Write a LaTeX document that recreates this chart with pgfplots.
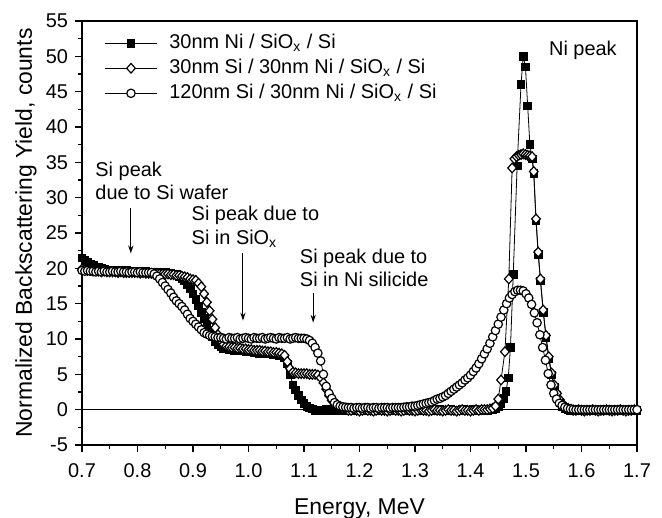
\documentclass[border=0pt]{standalone}
\usepackage{fontspec}
\setmainfont{Liberation Sans}
\usepackage{pgfplots}
\pgfplotsset{compat=1.18}
\usetikzlibrary{arrows.meta}
\begin{document}
\begin{tikzpicture}
\begin{axis}[
  at={(0,0)}, anchor=south west,
  scale only axis, width=277.5bp, height=212bp,
  xmin=0.7, xmax=1.7, ymin=-5, ymax=55,
  xtick={0.7,0.8,0.9,1.0,1.1,1.2,1.3,1.4,1.5,1.6,1.7},
  ytick={-5,0,5,10,15,20,25,30,35,40,45,50,55},
  minor x tick num=1, minor y tick num=1,
  tick align=outside, tick pos=left,
  major tick length=3.5bp, minor tick length=2bp,
  axis line style={line width=0.75bp},
  every tick/.style={black, line width=0.6bp},
  x tick label style={/pgf/number format/fixed, /pgf/number format/fixed zerofill, /pgf/number format/precision=1, /tikz/yshift=-2.5bp},
  /pgf/number format/assume math mode=true,
  tick label style={font=\fontsize{10}{12}\selectfont},
  x label style={font=\fontsize{11.5}{13}\selectfont, at={(axis description cs:0.5,0)}, anchor=base, yshift=-34.6bp},
  y label style={font=\fontsize{11.5}{13}\selectfont, at={(axis description cs:-0.1009,0.5)}, anchor=center},
  xlabel={Energy, MeV},
  ylabel={Normalized Backscattering Yield, counts},
  legend cell align=left,
  legend style={draw=none, fill=none, at={(axis cs:0.740,53.6)}, anchor=north west,
    font=\fontsize{10}{12}\selectfont, inner sep=0pt, row sep=0.5bp,
    nodes={inner sep=1bp, text height=7.5bp, text depth=2.5bp},
    /tikz/every odd column/.append style={column sep=5bp}},
  legend image code/.code={\draw[mark repeat=2,mark phase=2] plot coordinates {(0bp,0bp) (13bp,0bp) (26bp,0bp)};},
]
\addplot[black, line width=0.4bp, forget plot] coordinates {(0.7,0) (1.7,0)};

% 30nm Ni / SiOx / Si
\addplot[black, line width=0.4bp, mark=square*, mark size=1.9bp, mark options={fill=black, solid}] coordinates {
(0.700,21.5)(0.705,21.2)(0.710,20.9)(0.715,20.6)(0.720,20.4)(0.725,20.2)(0.730,20.1)(0.735,20.0)(0.740,19.9)(0.745,19.8)
(0.750,19.8)(0.755,19.7)(0.760,19.7)(0.765,19.7)(0.770,19.7)(0.775,19.6)(0.780,19.7)(0.785,19.6)(0.790,19.6)(0.795,19.6)
(0.800,19.6)(0.805,19.6)(0.810,19.5)(0.815,19.6)(0.820,19.5)(0.825,19.5)(0.830,19.5)(0.835,19.5)(0.840,19.4)(0.845,19.4)
(0.850,19.4)(0.855,19.3)(0.860,19.3)(0.865,19.2)(0.870,19.1)(0.875,18.9)(0.880,18.6)(0.885,18.2)(0.890,17.7)(0.895,17.1)
(0.900,16.4)(0.905,15.6)(0.910,14.7)(0.915,13.8)(0.920,12.9)(0.925,12.0)(0.930,11.1)(0.935,10.3)(0.940,9.7)(0.945,9.2)
(0.950,8.9)(0.955,8.7)(0.960,8.6)(0.965,8.5)(0.970,8.5)(0.975,8.4)(0.980,8.4)(0.985,8.3)(0.990,8.3)(0.995,8.2)
(1.000,8.2)(1.005,8.2)(1.010,8.1)(1.015,8.1)(1.020,8.0)(1.025,8.0)(1.030,8.0)(1.035,7.9)(1.040,7.9)(1.045,7.8)
(1.050,7.8)(1.055,7.7)(1.060,7.6)(1.065,7.3)(1.070,6.5)(1.075,5.0)(1.080,3.5)(1.085,2.8)(1.090,2.0)(1.095,1.4)
(1.100,0.9)(1.105,0.5)(1.110,0.25)(1.115,0.1)(1.120,-0.1)(1.125,-0.1)(1.130,-0.2)(1.135,-0.1)(1.140,0.0)(1.145,-0.1)
(1.150,-0.2)(1.155,-0.1)(1.160,-0.1)(1.165,0.0)(1.170,-0.2)(1.175,-0.1)(1.180,-0.1)(1.185,0.0)(1.190,-0.2)(1.195,-0.1)
(1.200,-0.1)(1.205,0.0)(1.210,-0.2)(1.215,-0.1)(1.220,-0.1)(1.225,0.0)(1.230,-0.2)(1.235,-0.1)(1.240,-0.1)(1.245,0.0)
(1.250,-0.2)(1.255,-0.1)(1.260,-0.1)(1.265,0.0)(1.270,-0.2)(1.275,-0.1)(1.280,-0.1)(1.285,0.0)(1.290,-0.2)(1.295,-0.1)
(1.300,-0.1)(1.305,0.0)(1.310,-0.2)(1.315,-0.1)(1.320,-0.1)(1.325,0.0)(1.330,-0.2)(1.335,-0.1)(1.340,-0.1)(1.345,0.0)
(1.350,-0.2)(1.355,-0.1)(1.360,-0.1)(1.365,0.0)(1.370,-0.2)(1.375,-0.1)(1.380,-0.1)(1.385,0.0)(1.390,-0.2)(1.395,-0.1)
(1.400,-0.1)(1.405,0.0)(1.410,-0.2)(1.415,-0.1)(1.420,-0.1)(1.425,0.0)(1.430,-0.1)(1.435,0.0)(1.440,0.0)(1.445,0.1)
(1.450,0.4)(1.455,0.9)(1.460,1.6)(1.464,2.6)(1.468,4.5)(1.472,8.8)(1.477,19.1)(1.484,34.5)(1.491,46.0)(1.495,50.0)
(1.499,48.5)(1.503,43.0)(1.507,37.5)(1.511,35.5)(1.514,33.4)(1.518,26.7)(1.522,22.0)(1.526,18.2)(1.531,13.8)(1.536,10.2)
(1.541,7.2)(1.546,4.9)(1.551,3.2)(1.556,2.0)(1.561,1.1)(1.566,0.5)(1.571,0.2)(1.576,0.0)(1.580,-0.2)(1.585,-0.1)
(1.590,0.0)(1.595,-0.1)(1.600,-0.1)(1.605,-0.2)(1.610,-0.1)(1.615,0.0)(1.620,-0.1)(1.625,-0.1)(1.630,-0.2)(1.635,-0.1)
(1.640,0.0)(1.645,-0.1)(1.650,-0.1)(1.655,-0.2)(1.660,-0.1)(1.665,0.0)(1.670,-0.1)(1.675,-0.1)(1.680,-0.2)(1.685,-0.1)
(1.690,0.0)(1.695,-0.1)(1.700,-0.1)
};
\addlegendentry{30nm Ni / SiO\textsubscript{x} / Si}

% 30nm Si / 30nm Ni / SiOx / Si
\addplot[black, line width=0.4bp, mark=diamond*, mark size=2.4bp, mark options={fill=white, solid, line width=0.6bp, xscale=1.2}] coordinates {
(0.700,19.9)(0.705,19.8)(0.710,19.7)(0.715,19.7)(0.720,19.6)(0.725,19.6)(0.730,19.6)(0.735,19.5)(0.740,19.6)(0.745,19.5)
(0.750,19.5)(0.755,19.5)(0.760,19.5)(0.765,19.4)(0.770,19.5)(0.775,19.4)(0.780,19.4)(0.785,19.4)(0.790,19.4)(0.795,19.4)
(0.800,19.4)(0.805,19.3)(0.810,19.4)(0.815,19.3)(0.820,19.3)(0.825,19.3)(0.830,19.3)(0.835,19.3)(0.840,19.2)(0.845,19.2)
(0.850,19.2)(0.855,19.2)(0.860,19.1)(0.865,19.1)(0.870,19.0)(0.875,19.0)(0.880,18.9)(0.885,18.8)(0.890,18.7)(0.895,18.5)
(0.900,18.4)(0.905,18.3)(0.910,17.9)(0.915,17.4)(0.920,16.4)(0.925,15.2)(0.930,14.0)(0.935,12.8)(0.940,11.6)(0.945,10.6)
(0.950,9.8)(0.955,9.2)(0.960,9.0)(0.965,8.9)(0.970,8.8)(0.975,8.8)(0.980,8.7)(0.985,8.7)(0.990,8.6)(0.995,8.6)
(1.000,8.5)(1.005,8.5)(1.010,8.4)(1.015,8.4)(1.020,8.4)(1.025,8.3)(1.030,8.3)(1.035,8.2)(1.040,8.2)(1.045,8.1)
(1.050,8.1)(1.055,8.0)(1.060,7.9)(1.065,7.7)(1.070,6.8)(1.075,5.8)(1.080,5.3)(1.085,5.2)(1.090,5.1)(1.095,5.1)
(1.100,5.1)(1.105,5.1)(1.110,5.0)(1.115,5.0)(1.120,5.0)(1.125,4.9)(1.130,4.5)(1.135,3.8)(1.140,2.9)(1.145,2.0)
(1.150,1.3)(1.155,0.8)(1.160,0.5)(1.165,0.3)(1.170,0.15)(1.175,0.05)(1.180,-0.1)(1.185,-0.1)(1.190,0.0)(1.195,-0.1)
(1.200,-0.2)(1.205,-0.1)(1.210,0.0)(1.215,-0.1)(1.220,-0.1)(1.225,-0.2)(1.230,-0.1)(1.235,0.0)(1.240,-0.1)(1.245,-0.1)
(1.250,-0.2)(1.255,-0.1)(1.260,0.0)(1.265,-0.1)(1.270,-0.1)(1.275,-0.2)(1.280,-0.1)(1.285,0.0)(1.290,-0.1)(1.295,-0.1)
(1.300,-0.2)(1.305,-0.1)(1.310,0.0)(1.315,-0.1)(1.320,-0.1)(1.325,-0.2)(1.330,-0.1)(1.335,0.0)(1.340,-0.1)(1.345,-0.1)
(1.350,-0.2)(1.355,-0.1)(1.360,0.0)(1.365,-0.1)(1.370,-0.1)(1.375,-0.2)(1.380,-0.1)(1.385,0.0)(1.390,-0.1)(1.395,-0.1)
(1.400,-0.2)(1.405,-0.1)(1.410,0.0)(1.415,-0.1)(1.420,0.0)(1.425,0.0)(1.430,0.0)(1.435,0.1)(1.440,0.2)(1.445,0.5)
(1.450,1.5)(1.455,4.2)(1.462,8.2)(1.469,18.5)(1.475,34.2)(1.479,35.5)(1.483,35.8)(1.487,36.0)(1.491,36.1)(1.495,36.2)
(1.499,36.1)(1.503,36.0)(1.507,35.9)(1.511,35.8)(1.514,33.7)(1.518,27.0)(1.522,22.3)(1.526,18.5)(1.531,14.1)(1.536,10.5)
(1.541,7.5)(1.546,5.2)(1.551,3.5)(1.556,2.3)(1.561,1.4)(1.566,0.8)(1.571,0.4)(1.576,0.2)(1.581,0.05)(1.585,-0.1)
(1.590,-0.1)(1.595,0.0)(1.600,-0.1)(1.605,-0.2)(1.610,-0.1)(1.615,-0.1)(1.620,0.0)(1.625,-0.1)(1.630,-0.2)(1.635,-0.1)
(1.640,-0.1)(1.645,0.0)(1.650,-0.1)(1.655,-0.2)(1.660,-0.1)(1.665,-0.1)(1.670,0.0)(1.675,-0.1)(1.680,-0.2)(1.685,-0.1)
(1.690,-0.1)(1.695,0.0)(1.700,-0.1)
};
\addlegendentry{30nm Si / 30nm Ni / SiO\textsubscript{x} / Si}

% 120nm Si / 30nm Ni / SiOx / Si
\addplot[black, line width=0.4bp, mark=*, mark size=2.1bp, mark options={fill=white, solid, line width=0.6bp}] coordinates {
(0.700,19.7)(0.705,19.6)(0.710,19.7)(0.715,19.6)(0.720,19.6)(0.725,19.5)(0.730,19.6)(0.735,19.5)(0.740,19.6)(0.745,19.5)
(0.750,19.5)(0.755,19.6)(0.760,19.5)(0.765,19.5)(0.770,19.6)(0.775,19.5)(0.780,19.5)(0.785,19.4)(0.790,19.5)(0.795,19.5)
(0.800,19.4)(0.805,19.5)(0.810,19.4)(0.815,19.4)(0.820,19.4)(0.825,19.4)(0.830,19.2)(0.835,18.9)(0.840,18.5)(0.845,18.0)
(0.850,17.5)(0.855,17.0)(0.860,16.5)(0.865,15.9)(0.870,15.4)(0.875,15.0)(0.880,14.6)(0.885,14.1)(0.890,13.5)(0.895,12.9)
(0.900,12.5)(0.905,12.1)(0.910,11.7)(0.915,11.3)(0.920,10.9)(0.925,10.7)(0.930,10.5)(0.935,10.4)(0.940,10.3)(0.945,10.2)
(0.950,10.2)(0.955,10.1)(0.960,10.0)(0.965,10.2)(0.970,10.1)(0.975,10.1)(0.980,10.2)(0.985,10.0)(0.990,10.1)(0.995,10.2)
(1.000,10.1)(1.005,10.0)(1.010,10.2)(1.015,10.1)(1.020,10.1)(1.025,10.2)(1.030,10.0)(1.035,10.1)(1.040,10.2)(1.045,10.1)
(1.050,10.0)(1.055,10.2)(1.060,10.1)(1.065,10.1)(1.070,10.2)(1.075,10.0)(1.080,10.1)(1.085,10.2)(1.090,10.1)(1.095,10.1)
(1.100,10.1)(1.105,10.0)(1.110,9.8)(1.115,9.4)(1.120,8.8)(1.125,8.0)(1.130,6.9)(1.135,5.0)(1.140,3.3)(1.145,2.3)
(1.150,1.6)(1.155,1.0)(1.160,0.7)(1.165,0.5)(1.170,0.4)(1.175,0.35)(1.180,0.3)(1.185,0.3)(1.190,0.2)(1.195,0.3)
(1.200,0.3)(1.205,0.2)(1.210,0.3)(1.215,0.3)(1.220,0.2)(1.225,0.3)(1.230,0.3)(1.235,0.2)(1.240,0.3)(1.245,0.3)
(1.250,0.3)(1.255,0.2)(1.260,0.3)(1.265,0.3)(1.270,0.3)(1.275,0.3)(1.280,0.35)(1.285,0.4)(1.290,0.4)(1.295,0.5)
(1.300,0.5)(1.305,0.6)(1.310,0.7)(1.315,0.8)(1.320,0.9)(1.325,1.0)(1.330,1.1)(1.335,1.3)(1.340,1.5)(1.345,1.6)
(1.350,1.8)(1.355,2.0)(1.360,2.3)(1.365,2.6)(1.370,2.9)(1.375,3.2)(1.380,3.5)(1.385,3.8)(1.390,4.2)(1.395,4.5)
(1.400,4.9)(1.405,5.4)(1.410,5.9)(1.415,6.5)(1.420,7.2)(1.425,7.9)(1.430,8.6)(1.435,9.4)(1.440,10.3)(1.445,11.2)
(1.450,12.1)(1.455,13.1)(1.460,14.1)(1.465,15.0)(1.470,15.8)(1.475,16.3)(1.480,16.7)(1.485,16.9)(1.490,16.9)(1.495,16.8)
(1.500,16.4)(1.505,15.8)(1.510,14.9)(1.515,13.7)(1.520,12.3)(1.525,10.6)(1.530,8.8)(1.535,7.0)(1.540,5.1)(1.545,3.5)
(1.550,2.3)(1.555,1.5)(1.560,0.9)(1.565,0.6)(1.570,0.35)(1.575,0.2)(1.580,0.1)(1.585,0.05)(1.590,0.0)(1.595,0.0)
(1.600,0.0)(1.605,0.0)(1.610,0.0)(1.615,0.0)(1.620,0.0)(1.625,0.0)(1.630,0.0)(1.635,0.0)(1.640,0.0)(1.645,0.0)
(1.650,0.0)(1.655,0.0)(1.660,0.0)(1.665,0.0)(1.670,0.0)(1.675,0.0)(1.680,0.0)(1.685,0.0)(1.690,0.0)(1.695,0.0)
(1.700,0.0)
};
\addlegendentry{120nm Si / 30nm Ni / SiO\textsubscript{x} / Si}

\node[anchor=west, align=left, inner sep=0pt, font=\fontsize{10}{11.7}\selectfont] at (axis cs:0.7235,32.4) {Si peak\\due to Si wafer};
\draw[line width=0.5bp, -{Stealth[length=4bp, width=2.6bp]}] (axis cs:0.788,28.6) -- (axis cs:0.788,22.1);
\node[anchor=west, align=left, inner sep=0pt, font=\fontsize{10}{11.7}\selectfont] at (axis cs:0.897,25.9) {Si peak due to\\Si in SiO\textsubscript{x}};
\draw[line width=0.5bp, -{Stealth[length=4bp, width=2.6bp]}] (axis cs:0.990,22.2) -- (axis cs:0.990,12.6);
\node[anchor=west, align=left, inner sep=0pt, font=\fontsize{10}{11.7}\selectfont] at (axis cs:1.092,20.1) {Si peak due to\\Si in Ni silicide};
\draw[line width=0.5bp, -{Stealth[length=4bp, width=2.6bp]}] (axis cs:1.1165,16.5) -- (axis cs:1.1165,12.3);
\node[anchor=west, inner sep=0pt, font=\fontsize{10}{11.7}\selectfont] at (axis cs:1.541,50.8) {Ni peak};
\end{axis}
\pgfresetboundingbox
\path[use as bounding box] (-41bp,-36.5bp) rectangle (290bp,222.5bp);
\end{tikzpicture}
\end{document}
